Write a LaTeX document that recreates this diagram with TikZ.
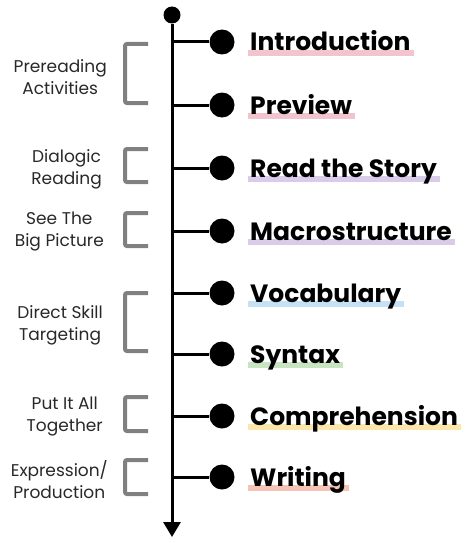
\documentclass[tikz,border=0pt]{standalone}
\usepackage{fontspec}
\setmainfont{Poppins}
\usepackage{tikz}
\usetikzlibrary{arrows.meta, backgrounds}
\definecolor{pinkmark}{RGB}{242,196,206}
\definecolor{lilacmark}{RGB}{216,204,234}
\definecolor{bluemark}{RGB}{196,226,246}
\definecolor{greenmark}{RGB}{200,228,192}
\definecolor{yellowmark}{RGB}{253,230,170}
\definecolor{salmonmark}{RGB}{246,196,180}
\definecolor{bracketgray}{RGB}{128,128,128}
\definecolor{phasetext}{RGB}{40,40,40}
\tikzstyle{bullet} = [circle, fill=black, inner sep=0pt, minimum size=25pt]
\tikzstyle{topdot} = [circle, fill=black, inner sep=0pt, minimum size=17pt]
\tikzstyle{stage} = [anchor=base west, inner sep=0pt, font=\fontsize{25}{28}\selectfont\bfseries]
\tikzstyle{phase} = [anchor=east, inner sep=0pt, align=center, text=phasetext, font=\fontsize{17}{22}\selectfont]
\tikzstyle{branch} = [line width=3pt]
\tikzstyle{bracket} = [line width=4pt, draw=bracketgray, rounded corners=2pt]
\tikzstyle{spine} = [line width=3pt, -{Triangle[width=17pt,length=15pt]}]

\begin{document}
\begin{tikzpicture}[x=1pt, y=-1pt]
        \useasboundingbox (0,0) rectangle (474,543);
        % time line
        \node (top) [topdot] at (172,15) {};
        \coordinate (end) at (172,537);
        \draw [spine] (top) -- (end);
        % stages
        \node (intro) [bullet] at (222,42) {};
        \node (prev) [bullet] at (222,105) {};
        \node (story) [bullet] at (222,168) {};
        \node (macro) [bullet] at (222,231) {};
        \node (vocab) [bullet] at (222,293) {};
        \node (synt) [bullet] at (222,354) {};
        \node (compr) [bullet] at (222,416) {};
        \node (writ) [bullet] at (222,477) {};
        \coordinate (s1) at (172,42);
        \coordinate (s2) at (172,105);
        \coordinate (s3) at (172,168);
        \coordinate (s4) at (172,231);
        \coordinate (s5) at (172,293);
        \coordinate (s6) at (172,354);
        \coordinate (s7) at (172,416);
        \coordinate (s8) at (172,477);
        \draw [branch] (s1) -- (intro);
        \draw [branch] (s2) -- (prev);
        \draw [branch] (s3) -- (story);
        \draw [branch] (s4) -- (macro);
        \draw [branch] (s5) -- (vocab);
        \draw [branch] (s6) -- (synt);
        \draw [branch] (s7) -- (compr);
        \draw [branch] (s8) -- (writ);
        \node (t1) [stage] at (250,51) {Introduction};
        \node (t2) [stage] at (250,114) {Preview};
        \node (t3) [stage] at (250,177) {Read the Story};
        \node (t4) [stage] at (250,240) {Macrostructure};
        \node (t5) [stage] at (250,302) {Vocabulary};
        \node (t6) [stage] at (250,363) {Syntax};
        \node (t7) [stage] at (250,425) {Comprehension};
        \node (t8) [stage] at (250,486) {Writing};
        \begin{scope}[on background layer]
            \fill [pinkmark] ([xshift=-2pt,yshift=1pt]t1.base west) rectangle ([xshift=3pt,yshift=-5pt]t1.base east);
            \fill [pinkmark] ([xshift=-2pt,yshift=1pt]t2.base west) rectangle ([xshift=3pt,yshift=-5pt]t2.base east);
            \fill [lilacmark] ([xshift=-2pt,yshift=1pt]t3.base west) rectangle ([xshift=3pt,yshift=-5pt]t3.base east);
            \fill [lilacmark] ([xshift=-2pt,yshift=1pt]t4.base west) rectangle ([xshift=3pt,yshift=-5pt]t4.base east);
            \fill [bluemark] ([xshift=-2pt,yshift=1pt]t5.base west) rectangle ([xshift=3pt,yshift=-5pt]t5.base east);
            \fill [greenmark] ([xshift=-2pt,yshift=1pt]t6.base west) rectangle ([xshift=3pt,yshift=-5pt]t6.base east);
            \fill [yellowmark] ([xshift=-2pt,yshift=1pt]t7.base west) rectangle ([xshift=3pt,yshift=-5pt]t7.base east);
            \fill [salmonmark] ([xshift=-2pt,yshift=1pt]t8.base west) rectangle ([xshift=3pt,yshift=-5pt]t8.base east);
        \end{scope}
        % phases
        \draw [bracket] (148,44) -- (125,44) -- (125,103) -- (148,103);
        \draw [bracket] (148,149) -- (125,149) -- (125,182) -- (148,182);
        \draw [bracket] (148,213) -- (125,213) -- (125,246) -- (148,246);
        \draw [bracket] (148,293) -- (125,293) -- (125,351) -- (148,351);
        \draw [bracket] (148,397) -- (125,397) -- (125,431) -- (148,431);
        \draw [bracket] (148,460) -- (125,460) -- (125,494) -- (148,494);
        \node (p1) [phase] at (107,77) {Prereading\\Activities};
        \node (p2) [phase] at (102,169) {Dialogic\\Reading};
        \node (p3) [phase] at (104,232) {See The\\Big Picture};
        \node (p4) [phase] at (103,325) {Direct Skill\\Targeting};
        \node (p5) [phase] at (103,416) {Put It All\\Together};
        \node (p6) [phase] at (108,480) {Expression/\\Production};
    \end{tikzpicture}
\end{document}
